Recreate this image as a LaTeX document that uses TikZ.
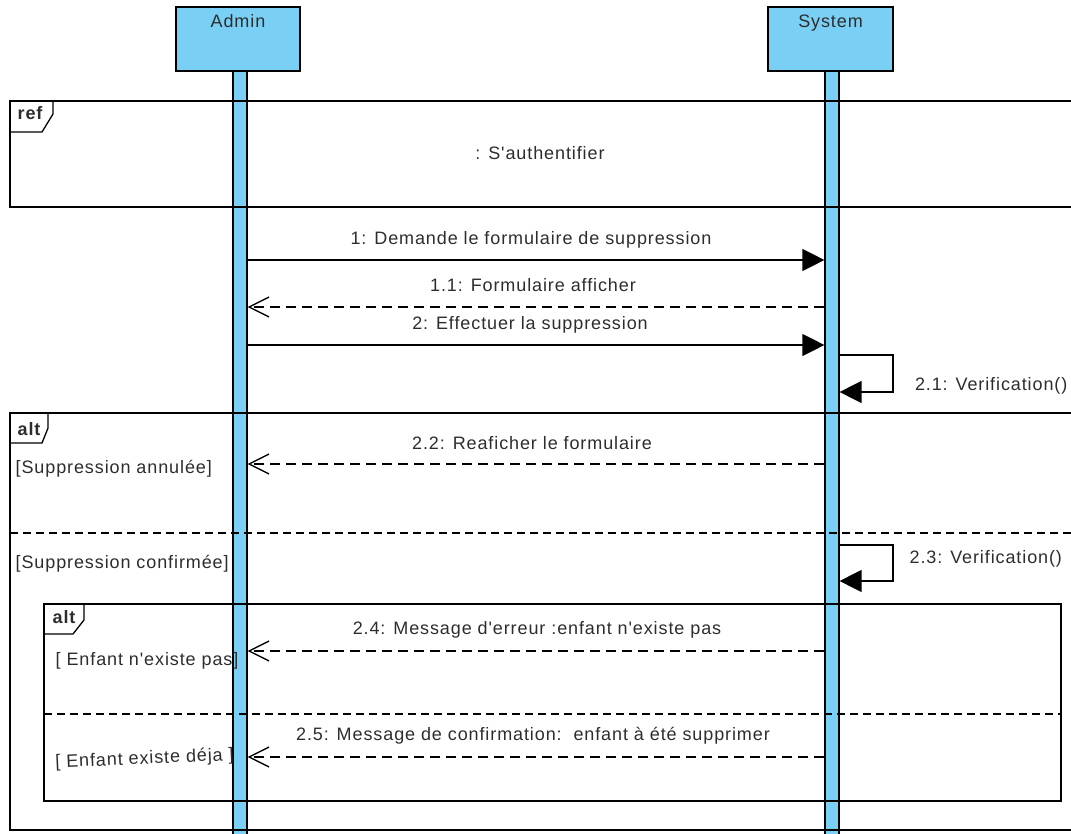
\documentclass[tikz,border=0pt]{standalone}
\usepackage{fontspec}
\setmainfont{Liberation Sans}[LetterSpace=5, Ligatures=TeXOff]
\usetikzlibrary{arrows.meta}
\definecolor{lifeblue}{RGB}{122,207,245}
\definecolor{ink}{RGB}{45,45,45}

\begin{document}
\begin{tikzpicture}[x=1pt, y=-1pt, line width=1.3pt,
  font=\fontsize{18}{22}\selectfont, text=ink,
  lifehead/.style={draw=black, fill=lifeblue, line width=1.3pt,
    minimum width=124pt, minimum height=64pt, inner sep=0pt},
  bar/.style={draw=black, fill=lifeblue, line width=1.2pt,
    minimum width=14pt, minimum height=780pt, inner sep=0pt, anchor=north},
  frame/.style={draw=black, line width=1.3pt},
  sep/.style={draw=black, line width=1.2pt, dash pattern=on 8pt off 5pt},
  call/.style={draw=black, line width=1.3pt, -{Triangle[length=22pt,width=22pt]}},
  reply/.style={draw=black, line width=1.3pt, dash pattern=on 10pt off 6pt,
    -{Straight Barb[length=20pt,width=20pt]}},
  msg/.style={anchor=base, inner sep=0pt},
  guard/.style={anchor=base west, inner sep=0pt},
  tag/.style={anchor=base west, inner sep=0pt, font=\fontsize{18}{22}\selectfont\bfseries}
]
\useasboundingbox (0,0) rectangle (1071,834);
\clip (0,0) rectangle (1071,834);

% lifeline heads
\node[lifehead] (admin) at (238,39) {};
\node[anchor=base, inner sep=0pt] (adminname) at (238,28) {Admin};
\node[lifehead, minimum width=125pt] (system) at (830.5,39) {};
\node[anchor=base, inner sep=0pt] (systemname) at (830.5,28) {System};

% activation bars
\node[bar] (abar) at (240,71) {};
\node[bar] (sbar) at (832,71) {};

% ref fragment
\draw[frame] (10,101) rectangle (1090,207);
\draw[frame] (10,132) -- (42,132) -- (53,114) -- (53,101);
\node[tag] (reftag) at (17,120) {ref};
\node[anchor=base, inner sep=0pt] (reftext) at (540,160) {: S'authentifier};

% messages before the alternatives
\draw[call] (abar.east |- 0,260) -- (sbar.west |- 0,260);
\node[msg] (l1) at (531,245) {1: Demande le formulaire de suppression};
\draw[reply] (sbar.west |- 0,307) -- (abar.east |- 0,307);
\node[msg] (l11) at (533,292) {1.1: Formulaire afficher};
\draw[call] (abar.east |- 0,345) -- (sbar.west |- 0,345);
\node[msg] (l2) at (530,330) {2: Effectuer la suppression};
\draw[call] (sbar.east |- 0,355) -- (893,355) -- (893,392) -- (sbar.east |- 0,392);
\node[anchor=base east, inner sep=0pt] (l21) at (1068,390) {2.1: Verification()};

% outer alt fragment
\draw[frame] (10,413) rectangle (1090,830);
\draw[frame] (10,443) -- (42,443) -- (48,428) -- (48,413);
\node[tag] (alttag) at (17,435) {alt};
\node[guard] (g1) at (15,473) {[Suppression annulée]};
\draw[reply] (sbar.west |- 0,464) -- (abar.east |- 0,464);
\node[msg] (l22) at (532,449) {2.2: Reaficher le formulaire};
\draw[sep] (10,533) -- (1071,533);
\node[guard, fill=white, inner xsep=3pt, inner ysep=4pt] (g2) at (12,568) {[Suppression confirmée]};
\draw[call] (sbar.east |- 0,545) -- (893,545) -- (893,581) -- (sbar.east |- 0,581);
\node[guard] (l23) at (909,563) {2.3: Verification()};

% inner alt fragment
\draw[frame] (44,604) rectangle (1061,801);
\draw[frame] (44,634) -- (73,634) -- (84,620) -- (84,604);
\node[tag] (alttag2) at (52,623) {alt};
\node[guard] (g3) at (55,665) {[ Enfant n'existe pas]};
\draw[reply] (sbar.west |- 0,651) -- (abar.east |- 0,651);
\node[msg] (l24) at (537,634) {2.4: Message d'erreur :enfant n'existe pas};
\draw[sep] (44,714) -- (1061,714);
\node[guard, rotate=2.5] (g4) at (55,768) {[ Enfant existe déja ]};
\draw[reply] (sbar.west |- 0,757) -- (abar.east |- 0,757);
\node[msg] (l25) at (533,740) {2.5: Message de confirmation:\ \ enfant à été supprimer};
\end{tikzpicture}
\end{document}
